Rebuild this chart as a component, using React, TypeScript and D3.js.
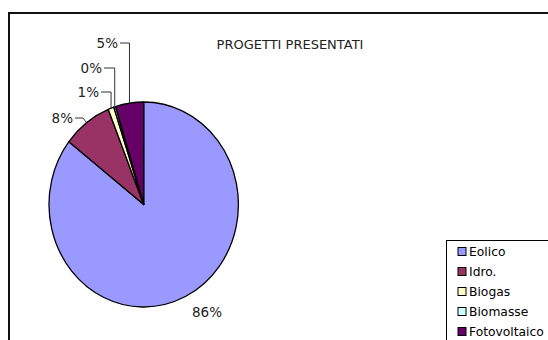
import React from "react";
import * as d3 from "d3";

const categories = ["Eolico", "Idro.", "Biogas", "Biomasse", "Fotovoltaico"];
const values = [85.5, 8.4, 1.0, 0.3, 4.8];
const colors = ["#9999FF", "#993366", "#FFFFCC", "#CCFFFF", "#660066"];
const title = "PROGETTI PRESENTATI";

// layout (label text anchor positions, end of text, vertical middle)
const labelPos: ([number, number] | null)[] = [
  [222, 312],
  [73, 118],
  [99, 92],
  [102, 68],
  [118, 43],
];

const W = 548;
const H = 340;
const cx = 143.7;
const cy = 204.5;
const rx = 94.7;
const ry = 102.5;
const FONT = "'DejaVu Sans', Verdana, sans-serif";

export default function App() {
  const total = d3.sum(values);
  const pie = d3.pie<number>().sort(null).value((d) => d);
  const arcs = pie(values);
  const arcGen = d3.arc<d3.PieArcDatum<number>>().innerRadius(0).outerRadius(rx);
  const sy = ry / rx;
  const fmt = (v: number) => `${Math.round((v / total) * 100)}%`;

  return (
    <svg
      width={W}
      height={H}
      style={{ position: "absolute", left: 0, top: 0, background: "#fff" }}
    >
      <rect x={0} y={0} width={W} height={H} fill="#fff" />
      <rect x={9} y={13} width={W + 20} height={H + 20} fill="none" stroke="#111" strokeWidth={2} />
      <text
        x={290}
        y={49}
        textAnchor="middle"
        fontFamily={FONT}
        fontSize={13}
        fill="#222"
      >
        {title}
      </text>
      <g transform={`translate(${cx},${cy}) scale(1,${sy})`}>
        {arcs.map((a, i) => (
          <path
            key={i}
            d={arcGen(a) || ""}
            fill={colors[i]}
            stroke="#000"
            strokeWidth={1.3}
            vectorEffect="non-scaling-stroke"
            strokeLinejoin="round"
          />
        ))}
      </g>
      {arcs.map((a, i) => {
        const pos = labelPos[i];
        if (!pos) return null;
        const mid = (a.startAngle + a.endAngle) / 2;
        const ex = cx + rx * Math.sin(mid);
        const ey = cy - ry * Math.cos(mid);
        const [lx, ly] = pos;
        const showLeader = i !== 0;
        let path = "";
        if (showLeader) {
          if (Math.abs(ex - lx) < 20 && i !== 1) {
            path = `M${lx + 2},${ly}H${ex}V${ey}`;
          } else {
            path = `M${lx + 2},${ly}H${lx + 10}L${ex},${ey}`;
          }
        }
        return (
          <g key={i}>
            {showLeader && <path d={path} fill="none" stroke="#333" strokeWidth={1} />}
            <text
              x={lx}
              y={ly}
              dy="0.36em"
              textAnchor="end"
              fontFamily={FONT}
              fontSize={13.5}
              fill="#222"
            >
              {fmt(values[i])}
            </text>
          </g>
        );
      })}
      <g>
        <rect x={446.5} y={240.5} width={130} height={130} fill="#fff" stroke="#000" strokeWidth={1} />
        {categories.map((c, i) => {
          const yy = 252 + i * 20;
          return (
            <g key={c}>
              <rect x={458} y={yy - 4.5} width={8} height={8} fill={colors[i]} stroke="#000" strokeWidth={1} />
              <text x={469} y={yy} dy="0.36em" fontFamily={FONT} fontSize={12.3} fill="#000">
                {c}
              </text>
            </g>
          );
        })}
      </g>
    </svg>
  );
}
